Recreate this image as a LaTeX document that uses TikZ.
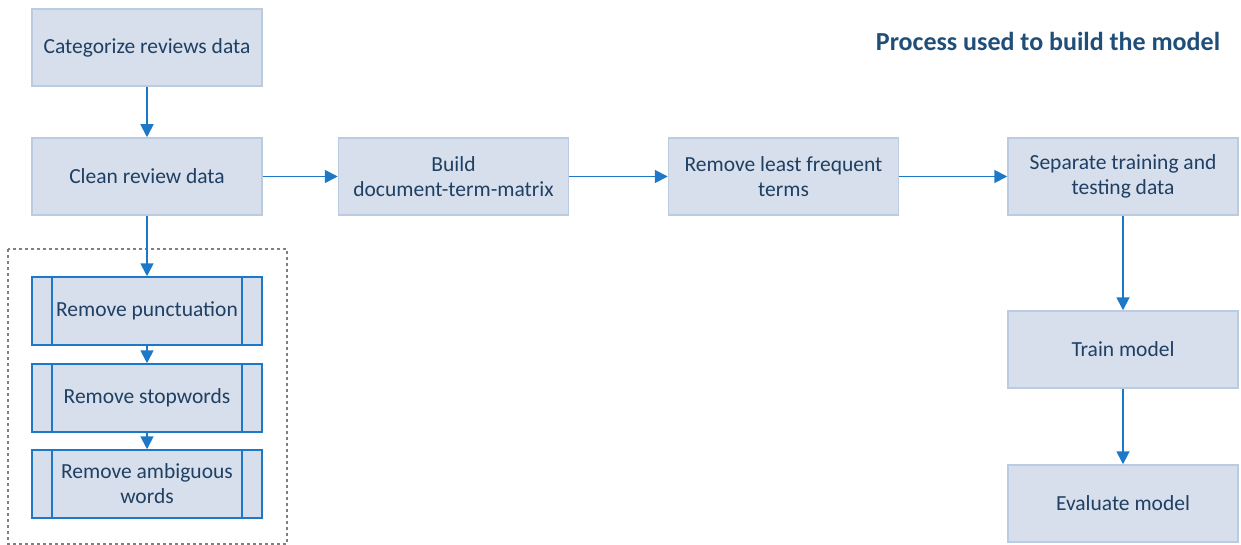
\documentclass[tikz,border=0pt]{standalone}
\usepackage{fontspec}
\setmainfont{Carlito}
\usepackage{tikz}
\usetikzlibrary{arrows.meta}

\definecolor{boxfill}{HTML}{D6DFEB}
\definecolor{boxline}{HTML}{BACBE2}
\definecolor{flowblue}{HTML}{1E78C8}
\definecolor{inkblue}{HTML}{1F3F63}
\definecolor{titleblue}{HTML}{1F4E79}

\begin{document}
\begin{tikzpicture}
    [ x=1pt, y=-1pt, font=\fontsize{21.5}{25}\selectfont,
      step box/.style={draw=boxline, line width=1.5pt, fill=boxfill,
        text=inkblue, align=center, minimum width=230pt, minimum height=77pt,
        inner sep=2pt},
      sub box/.style={step box, draw=flowblue, minimum height=68pt,
        path picture={
          \draw[flowblue, line width=1.5pt]
            ([xshift=20pt]path picture bounding box.north west) --
            ([xshift=20pt]path picture bounding box.south west);
          \draw[flowblue, line width=1.5pt]
            ([xshift=-20pt]path picture bounding box.north east) --
            ([xshift=-20pt]path picture bounding box.south east);
        }},
      flow/.style={draw=flowblue, line width=1.8pt,
        -{Triangle[length=13pt, width=13pt]}},
    ]
    \useasboundingbox (0, 0) rectangle (1241, 545);

    % main steps
    \node[step box] (cat) at (147, 47.5) {Categorize reviews data};
    \node[step box] (clean) at (147, 176.5) {Clean review data};
    \node[step box] (dtm) at (453.5, 176.5) {Build\\document-term-matrix};
    \node[step box] (rare) at (783.5, 176.5) {Remove least frequent\\terms};
    \node[step box] (split) at (1123, 176.5) {Separate training and\\testing data};
    \node[step box] (train) at (1123, 349.5) {Train model};
    \node[step box] (eval) at (1123, 503.5) {Evaluate model};

    % cleaning sub-steps
    \draw[gray, dashed, line width=1.2pt] (8, 249) rectangle (287, 544);
    \node[sub box] (punct) at (147, 311) {Remove punctuation};
    \node[sub box] (stop) at (147, 398) {Remove stopwords};
    \node[sub box] (ambig) at (147, 484) {Remove ambiguous\\words};

    \node[font=\fontsize{26}{30}\selectfont\bfseries, text=titleblue]
        (title) at (1048, 41) {Process used to build the model};

    \foreach \a / \b in {cat/clean, clean/dtm, dtm/rare, rare/split,
                         split/train, train/eval, clean/punct,
                         punct/stop, stop/ambig} {
        \draw[flow] (\a) -- (\b);
    }
\end{tikzpicture}
\end{document}
